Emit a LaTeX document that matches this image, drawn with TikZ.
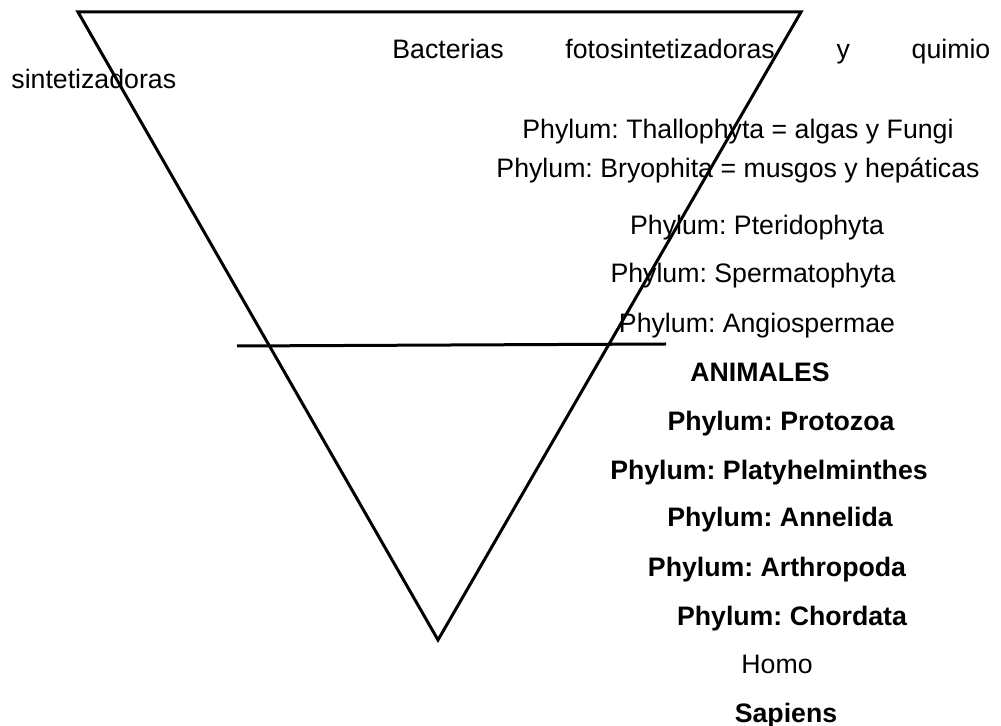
\documentclass[tikz,border=0pt]{standalone}
\usepackage{fontspec}
\setmainfont{Liberation Sans}
\frenchspacing
\begin{document}
\begin{tikzpicture}[
    x=0.5pt, y=-0.5pt,
    txt/.style={inner sep=0pt, anchor=base,
                font=\fontsize{13.35}{16}\selectfont},
    bold/.style={txt, font=\fontsize{13.35}{16}\selectfont\bfseries},
    edge/.style={line width=1.5pt, line join=miter}
  ]
  \useasboundingbox (0,0) rectangle (1001,726);
  % inverted triangle and dividing line
  \coordinate (tl) at (78,12);
  \coordinate (tr) at (801,12);
  \coordinate (bot) at (438,640);
  \coordinate (cutl) at (237,346);
  \coordinate (cutr) at (666,344);
  \draw[edge] (tl) -- (tr) -- (bot) -- cycle;
  \draw[edge] (cutl) -- (cutr);
  % plants
  \node[txt, anchor=base west] (bact) at (392,59)
    {\makebox[299pt][s]{Bacterias fotosintetizadoras y quimio}};
  \node[txt, anchor=base west] (sint) at (11,89) {sintetizadoras};
  \node[txt] (thal)  at (738,139) {Phylum: Thallophyta = algas y Fungi};
  \node[txt] (bryo)  at (738,178) {Phylum: Bryophita = musgos y hepáticas};
  \node[txt] (pter)  at (757,235) {Phylum: Pteridophyta};
  \node[txt] (sperm) at (753,283) {Phylum: Spermatophyta};
  \node[txt] (angio) at (757,333) {Phylum: Angiospermae};
  % animals
  \node[bold] (anim)  at (760,382) {ANIMALES};
  \node[bold] (proto) at (781,431) {Phylum: Protozoa};
  \node[bold] (platy) at (769,480) {Phylum: Platyhelminthes};
  \node[bold] (anne)  at (780,527) {Phylum: Annelida};
  \node[bold] (arth)  at (777,577) {Phylum: Arthropoda};
  \node[bold] (chord) at (792,625) {Phylum: Chordata};
  \node[txt]  (homo)  at (777,673) {Homo};
  \node[bold] (sap)   at (786,722) {Sapiens};
\end{tikzpicture}
\end{document}
